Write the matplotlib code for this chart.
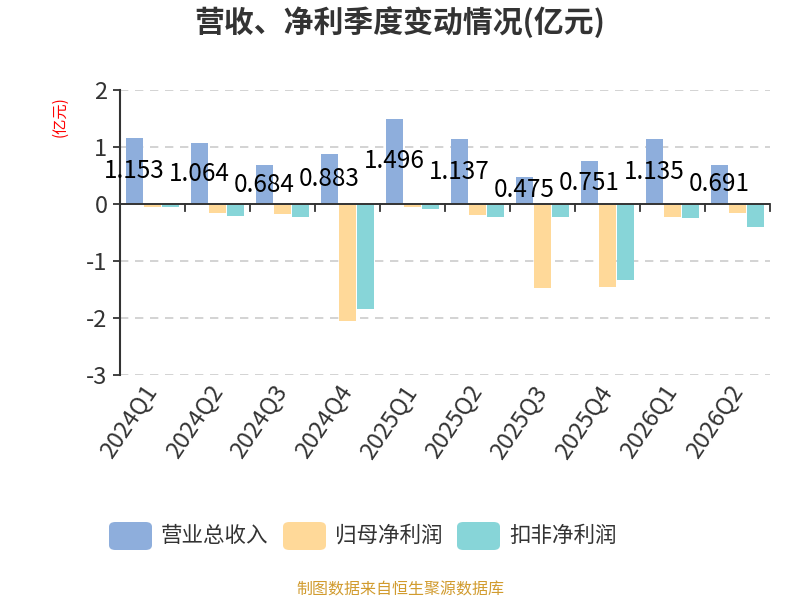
import numpy as np
import matplotlib.pyplot as plt
from matplotlib.patches import FancyBboxPatch

plt.rcParams['font.family'] = ['Noto Sans CJK SC', 'DejaVu Sans']
plt.rcParams['axes.unicode_minus'] = False

quarters = ['2024Q1', '2024Q2', '2024Q3', '2024Q4', '2025Q1',
            '2025Q2', '2025Q3', '2025Q4', '2026Q1', '2026Q2']
revenue = [1.153, 1.064, 0.684, 0.883, 1.496, 1.137, 0.475, 0.751, 1.135, 0.691]
net_profit = [-0.05, -0.15, -0.18, -2.05, -0.05, -0.19, -1.48, -1.46, -0.22, -0.15]
net_profit_ex = [-0.06, -0.21, -0.22, -1.85, -0.09, -0.23, -0.22, -1.33, -0.24, -0.40]
series_names = ['营业总收入', '归母净利润', '扣非净利润']
colors = ['#8EAEDC', '#FFD999', '#87D5D8']

fig = plt.figure(figsize=(8, 6), dpi=100)
ax = fig.add_axes([0.15, 0.375, 0.8125, 0.475])

x = np.arange(len(quarters))
w = 0.25
off = 0.278
ax.bar(x - off, revenue, w, color=colors[0], zorder=3)
ax.bar(x, net_profit, w, color=colors[1], zorder=3)
ax.bar(x + off, net_profit_ex, w, color=colors[2], zorder=3)

# value labels, centred on the revenue bar
for xi, v in zip(x, revenue):
    ax.text(xi - off, v / 2, f'{v:.3f}', ha='center', va='center',
            fontsize=17.5, color='#000000', zorder=5)

ax.set_xlim(-0.5, len(quarters) - 0.5)
ax.set_ylim(-3, 2)
ax.set_yticks([-3, -2, -1, 0, 1, 2])
ax.set_yticklabels(['-3', '-2', '-1', '0', '1', '2'])
ax.tick_params(axis='y', labelsize=17, colors='#333333', length=5, width=1.3, pad=4)
ax.grid(axis='y', color='#cccccc', linestyle=(0, (5, 4)), linewidth=1.2, zorder=0)

for s in ['top', 'right', 'bottom']:
    ax.spines[s].set_visible(False)
ax.spines['left'].set_color('#333333')
ax.spines['left'].set_linewidth(1.5)

# zero line with ticks between categories
ax.axhline(0, color='#333333', linewidth=1.4, zorder=4)
for b in np.arange(0.5, len(quarters), 1.0):
    ax.plot([b, b], [0, -0.13], color='#333333', linewidth=1.3, zorder=4, clip_on=False)

ax.set_xticks(x)
ax.set_xticklabels(quarters, rotation=56, ha='right', va='center', rotation_mode='anchor')
ax.tick_params(axis='x', labelsize=17, colors='#333333', length=0, pad=9)

fig.text(0.5, 0.963, '营收、净利季度变动情况(亿元)', ha='center', va='center',
         fontsize=21.5, fontweight='bold', color='#333333')
fig.text(0.075, 0.806, '(亿元)', ha='center', va='center', rotation=90,
         fontsize=11, color='red')

# legend
box_x = [109, 283, 457]
for bx, name, c in zip(box_x, series_names, colors):
    fig.patches.append(FancyBboxPatch((bx / 800, 1 - 550 / 600), 43 / 800, 28 / 600,
                                      boxstyle='round,pad=0,rounding_size=0.008',
                                      transform=fig.transFigure, facecolor=c,
                                      edgecolor='none'))
    fig.text((bx + 52) / 800, 1 - 536 / 600, name, ha='left', va='center',
             fontsize=15.5, color='#333333')

fig.text(0.5, 1 - 590 / 600, '制图数据来自恒生聚源数据库', ha='center', va='center',
         fontsize=11.5, color='#D19B2E')

fig.savefig('out.png', dpi=100)
